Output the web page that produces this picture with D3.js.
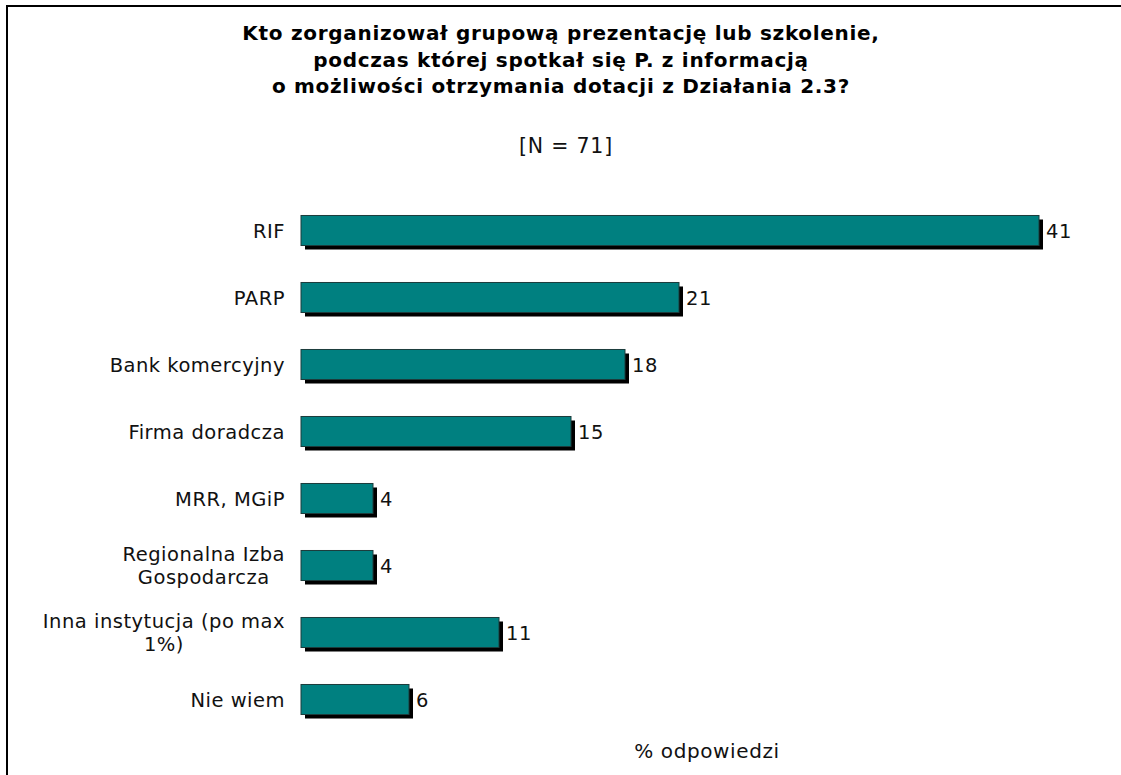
<!DOCTYPE html>
<html>
<head>
<meta charset="utf-8">
<script src="https://cdn.jsdelivr.net/npm/d3@7"></script>
<style>
  body { margin: 0; background: #fff; }
  svg { display: block; font-family: "DejaVu Sans", Verdana, sans-serif; }
</style>
</head>
<body>
<svg id="main-svg" width="1121" height="775"></svg>
<script>
// categories, each entry is one label (lines split on \n)
const categories = [
    "RIF",
    "PARP",
    "Bank komercyjny",
    "Firma doradcza",
    "MRR, MGiP",
    "Regionalna Izba\nGospodarcza",
    "Inna instytucja (po max\n1%)",
    "Nie wiem"
];
// percent of answers
const values = [41, 21, 18, 15, 4, 4, 11, 6];

const titleLines = [
    "Kto zorganizował grupową prezentację lub szkolenie,",
    "podczas której spotkał się P. z informacją",
    "o możliwości otrzymania dotacji z Działania 2.3?"
];
const subtitle = "[N = 71]";
const axisTitle = "% odpowiedzi";

const data = categories.map((c, i) => ({ cat: c, value: values[i] }));

const svg = d3.select("#main-svg");

// frame (runs off right and bottom edge)
svg.append("rect")
    .attr("x", 7).attr("y", 6)
    .attr("width", 1130).attr("height", 800)
    .attr("fill", "none")
    .attr("stroke", "#000")
    .attr("stroke-width", 2);

// title
svg.append("text")
    .attr("x", 561)
    .attr("text-anchor", "middle")
    .attr("font-size", "20px")
    .attr("letter-spacing", "0.7px")
    .attr("font-weight", "bold")
    .selectAll("tspan")
    .data(titleLines)
    .enter().append("tspan")
    .attr("x", 561)
    .attr("y", (d, i) => 40 + i * 26.5)
    .text(d => d);

svg.append("text")
    .attr("x", 566)
    .attr("y", 153)
    .attr("text-anchor", "middle")
    .attr("font-size", "20.5px")
    .attr("letter-spacing", "0.8px")
    .attr("fill", "#111")
    .text(subtitle);

// scales
const x = d3.scaleLinear()
    .domain([0, 41])
    .range([301, 1039]);

const y = d3.scaleBand()
    .domain(categories)
    .range([197, 733])
    .paddingInner(0.552)
    .paddingOuter(0.276);

// bars: shadow first, then the teal bar
const bars = svg.append("g");

bars.selectAll("rect.shadow")
    .data(data)
    .enter().append("rect")
    .attr("class", "shadow")
    .attr("x", x(0) + 4)
    .attr("y", d => y(d.cat) + 4)
    .attr("width", d => x(d.value) - x(0))
    .attr("height", y.bandwidth())
    .attr("fill", "#000");

bars.selectAll("rect.bar")
    .data(data)
    .enter().append("rect")
    .attr("class", "bar")
    .attr("x", x(0))
    .attr("y", d => y(d.cat))
    .attr("width", d => x(d.value) - x(0))
    .attr("height", y.bandwidth())
    .attr("fill", "#008080")
    .attr("stroke", "#1c3c3c")
    .attr("stroke-width", 1);

// value labels
svg.append("g")
    .selectAll("text")
    .data(data)
    .enter().append("text")
    .attr("x", d => x(d.value) + 7)
    .attr("y", d => y(d.cat) + y.bandwidth() / 2)
    .attr("dy", "0.36em")
    .attr("font-size", "19.5px")
    .attr("letter-spacing", "0.5px")
    .attr("fill", "#111")
    .text(d => d.value);

// category labels, lines centered on each other, block right aligned
const labelRight = 285;
const lineH = 23;
const labels = svg.append("g")
    .selectAll("text")
    .data(data)
    .enter().append("text")
    .attr("font-size", "19.5px")
    .attr("letter-spacing", "0.5px")
    .attr("fill", "#111")
    .attr("text-anchor", "middle");

labels.each(function (d) {
    const t = d3.select(this);
    const lines = d.cat.split("\n");
    const cy = y(d.cat) + y.bandwidth() / 2;
    const spans = lines.map((ln, i) => t.append("tspan")
        .attr("y", cy + (i - (lines.length - 1) / 2) * lineH)
        .attr("dy", "0.36em")
        .text(ln));
    const maxW = d3.max(spans, s => s.node().getComputedTextLength());
    spans.forEach(s => s.attr("x", labelRight - maxW / 2));
});

// axis title
svg.append("text")
    .attr("x", 707)
    .attr("y", 758)
    .attr("text-anchor", "middle")
    .attr("font-size", "20px")
    .attr("letter-spacing", "0.6px")
    .attr("fill", "#111")
    .text(axisTitle);
</script>
</body>
</html>
